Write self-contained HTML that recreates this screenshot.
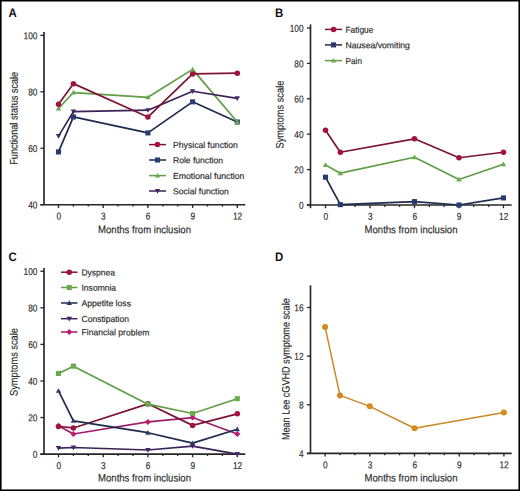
<!DOCTYPE html>
<html><head><meta charset="utf-8"><style>
html,body{margin:0;padding:0;background:#fff;}
svg{display:block;font-family:"Liberation Sans", sans-serif;}
</style></head><body>
<svg width="520" height="491" viewBox="0 0 520 491">
<rect x="0" y="0" width="520" height="491" fill="#fff"/>
<text transform="translate(8.60 17.00) rotate(0.1) scale(0.9300 1)" font-size="12.3" text-anchor="start" font-weight="bold" fill="#111">A</text>
<line x1="44.0" y1="31.9" x2="44.0" y2="204.7" stroke="#262626" stroke-width="1.65"/>
<line x1="40.4" y1="204.7" x2="245.3" y2="204.7" stroke="#262626" stroke-width="1.65"/>
<line x1="40.4" y1="204.7" x2="44.0" y2="204.7" stroke="#262626" stroke-width="1.3"/>
<text transform="translate(37.40 208.45) rotate(0.1) scale(0.8300 1)" font-size="10.0" text-anchor="end" font-weight="normal" fill="#2a2a2a" stroke="#2a2a2a" stroke-width="0.16">40</text>
<line x1="40.4" y1="148.26666666666665" x2="44.0" y2="148.26666666666665" stroke="#262626" stroke-width="1.3"/>
<text transform="translate(37.40 152.02) rotate(0.1) scale(0.8300 1)" font-size="10.0" text-anchor="end" font-weight="normal" fill="#2a2a2a" stroke="#2a2a2a" stroke-width="0.16">60</text>
<line x1="40.4" y1="91.83333333333334" x2="44.0" y2="91.83333333333334" stroke="#262626" stroke-width="1.3"/>
<text transform="translate(37.40 95.58) rotate(0.1) scale(0.8300 1)" font-size="10.0" text-anchor="end" font-weight="normal" fill="#2a2a2a" stroke="#2a2a2a" stroke-width="0.16">80</text>
<line x1="40.4" y1="35.400000000000006" x2="44.0" y2="35.400000000000006" stroke="#262626" stroke-width="1.3"/>
<text transform="translate(37.40 39.15) rotate(0.1) scale(0.8300 1)" font-size="10.0" text-anchor="end" font-weight="normal" fill="#2a2a2a" stroke="#2a2a2a" stroke-width="0.16">100</text>
<line x1="58.5" y1="204.7" x2="58.5" y2="207.89999999999998" stroke="#262626" stroke-width="1.35"/>
<text transform="translate(58.70 219.50) rotate(0.1) scale(0.8300 1)" font-size="10.0" text-anchor="middle" font-weight="normal" fill="#2a2a2a" stroke="#2a2a2a" stroke-width="0.16">0</text>
<line x1="73.4" y1="204.7" x2="73.4" y2="206.6" stroke="#262626" stroke-width="1.3"/>
<line x1="88.3" y1="204.7" x2="88.3" y2="206.6" stroke="#262626" stroke-width="1.3"/>
<line x1="103.2" y1="204.7" x2="103.2" y2="207.89999999999998" stroke="#262626" stroke-width="1.35"/>
<text transform="translate(103.40 219.50) rotate(0.1) scale(0.8300 1)" font-size="10.0" text-anchor="middle" font-weight="normal" fill="#2a2a2a" stroke="#2a2a2a" stroke-width="0.16">3</text>
<line x1="118.1" y1="204.7" x2="118.1" y2="206.6" stroke="#262626" stroke-width="1.3"/>
<line x1="133.0" y1="204.7" x2="133.0" y2="206.6" stroke="#262626" stroke-width="1.3"/>
<line x1="147.9" y1="204.7" x2="147.9" y2="207.89999999999998" stroke="#262626" stroke-width="1.35"/>
<text transform="translate(148.10 219.50) rotate(0.1) scale(0.8300 1)" font-size="10.0" text-anchor="middle" font-weight="normal" fill="#2a2a2a" stroke="#2a2a2a" stroke-width="0.16">6</text>
<line x1="162.8" y1="204.7" x2="162.8" y2="206.6" stroke="#262626" stroke-width="1.3"/>
<line x1="177.7" y1="204.7" x2="177.7" y2="206.6" stroke="#262626" stroke-width="1.3"/>
<line x1="192.6" y1="204.7" x2="192.6" y2="207.89999999999998" stroke="#262626" stroke-width="1.35"/>
<text transform="translate(192.80 219.50) rotate(0.1) scale(0.8300 1)" font-size="10.0" text-anchor="middle" font-weight="normal" fill="#2a2a2a" stroke="#2a2a2a" stroke-width="0.16">9</text>
<line x1="207.5" y1="204.7" x2="207.5" y2="206.6" stroke="#262626" stroke-width="1.3"/>
<line x1="222.4" y1="204.7" x2="222.4" y2="206.6" stroke="#262626" stroke-width="1.3"/>
<line x1="237.3" y1="204.7" x2="237.3" y2="207.89999999999998" stroke="#262626" stroke-width="1.35"/>
<text transform="translate(237.50 219.50) rotate(0.1) scale(0.8300 1)" font-size="10.0" text-anchor="middle" font-weight="normal" fill="#2a2a2a" stroke="#2a2a2a" stroke-width="0.16">12</text>
<text transform="translate(144.50 233.20) rotate(0.1) scale(0.8854 1)" font-size="10.8" text-anchor="middle" font-weight="normal" fill="#2a2a2a" stroke="#2a2a2a" stroke-width="0.16">Months from inclusion</text>
<text transform="translate(17.60 118.30) rotate(-89.9) scale(0.8466 1)" font-size="10.8" text-anchor="middle" font-weight="normal" fill="#2a2a2a" stroke="#2a2a2a" stroke-width="0.16">Functional status scale</text>
<polyline points="58.50,151.93 73.40,116.95 147.90,132.89 192.60,101.85 237.30,122.03" fill="none" stroke="#1f2b4e" stroke-width="1.7" stroke-linejoin="round"/>
<rect x="55.95" y="149.3848333333333" width="5.1" height="5.1" fill="#273b72"/>
<rect x="70.85000000000001" y="114.39616666666669" width="5.1" height="5.1" fill="#273b72"/>
<rect x="145.35" y="130.3385833333333" width="5.1" height="5.1" fill="#273b72"/>
<rect x="190.04999999999998" y="99.30024999999999" width="5.1" height="5.1" fill="#273b72"/>
<rect x="234.75" y="119.47516666666668" width="5.1" height="5.1" fill="#273b72"/>
<polyline points="58.50,108.48 73.40,92.54 147.90,97.34 192.60,69.40 237.30,122.03" fill="none" stroke="#5f9e47" stroke-width="1.7" stroke-linejoin="round"/>
<polygon points="58.5,105.78616666666669 61.195,110.50241666666668 55.805,110.50241666666668" fill="#69aa4c"/>
<polygon points="73.4,89.84375000000001 76.095,94.56 70.70500000000001,94.56" fill="#69aa4c"/>
<polygon points="147.9,94.64058333333335 150.595,99.35683333333334 145.205,99.35683333333334" fill="#69aa4c"/>
<polygon points="192.6,66.70608333333334 195.295,71.42233333333333 189.905,71.42233333333333" fill="#69aa4c"/>
<polygon points="237.3,119.33016666666668 239.995,124.04641666666667 234.60500000000002,124.04641666666667" fill="#69aa4c"/>
<polyline points="58.50,136.13 73.40,111.58 147.90,110.17 192.60,91.27 237.30,98.32" fill="none" stroke="#3c2356" stroke-width="1.7" stroke-linejoin="round"/>
<polygon points="58.5,138.82850000000002 61.195,134.11225000000002 55.805,134.11225000000002" fill="#46276a"/>
<polygon points="73.4,114.27999999999999 76.095,109.56375 70.70500000000001,109.56375" fill="#46276a"/>
<polygon points="147.9,112.86916666666666 150.595,108.15291666666667 145.205,108.15291666666667" fill="#46276a"/>
<polygon points="192.6,93.96399999999998 195.295,89.24775 189.905,89.24775" fill="#46276a"/>
<polygon points="237.3,101.01816666666666 239.995,96.30191666666667 234.60500000000002,96.30191666666667" fill="#46276a"/>
<polyline points="58.50,104.25 73.40,83.65 147.90,117.09 192.60,73.92 237.30,73.21" fill="none" stroke="#7c1434" stroke-width="1.7" stroke-linejoin="round"/>
<circle cx="58.5" cy="104.2486666666667" r="2.75" fill="#a3123c"/>
<circle cx="73.4" cy="83.65049999999998" r="2.75" fill="#a3123c"/>
<circle cx="147.9" cy="117.08725" r="2.75" fill="#a3123c"/>
<circle cx="192.6" cy="73.91575" r="2.75" fill="#a3123c"/>
<circle cx="237.3" cy="73.21033333333335" r="2.75" fill="#a3123c"/>
<line x1="149" y1="144.6" x2="166" y2="144.6" stroke="#7c1434" stroke-width="1.5"/>
<circle cx="157.5" cy="144.6" r="2.75" fill="#a3123c"/>
<text transform="translate(173.00 147.90) rotate(0.1) scale(0.9843 1)" font-size="8.8" text-anchor="start" font-weight="normal" fill="#2a2a2a" stroke="#2a2a2a" stroke-width="0.16">Physical function</text>
<line x1="149" y1="160.0" x2="166" y2="160.0" stroke="#1f2b4e" stroke-width="1.5"/>
<rect x="154.95" y="157.45" width="5.1" height="5.1" fill="#273b72"/>
<text transform="translate(173.00 163.30) rotate(0.1) scale(0.9734 1)" font-size="8.8" text-anchor="start" font-weight="normal" fill="#2a2a2a" stroke="#2a2a2a" stroke-width="0.16">Role function</text>
<line x1="149" y1="175.6" x2="166" y2="175.6" stroke="#5f9e47" stroke-width="1.5"/>
<polygon points="157.5,172.905 160.195,177.62125 154.805,177.62125" fill="#69aa4c"/>
<text transform="translate(173.00 178.90) rotate(0.1) scale(0.9876 1)" font-size="8.8" text-anchor="start" font-weight="normal" fill="#2a2a2a" stroke="#2a2a2a" stroke-width="0.16">Emotional function</text>
<line x1="149" y1="191.0" x2="166" y2="191.0" stroke="#3c2356" stroke-width="1.5"/>
<polygon points="157.5,193.695 160.195,188.97875 154.805,188.97875" fill="#46276a"/>
<text transform="translate(173.00 194.30) rotate(0.1) scale(0.9784 1)" font-size="8.8" text-anchor="start" font-weight="normal" fill="#2a2a2a" stroke="#2a2a2a" stroke-width="0.16">Social function</text>
<text transform="translate(275.10 17.00) rotate(0.1) scale(0.9300 1)" font-size="12.3" text-anchor="start" font-weight="bold" fill="#111">B</text>
<line x1="310.5" y1="24.4" x2="310.5" y2="208.2" stroke="#262626" stroke-width="1.65"/>
<line x1="306.9" y1="205.0" x2="511.6" y2="205.0" stroke="#262626" stroke-width="1.65"/>
<line x1="306.9" y1="205.0" x2="310.5" y2="205.0" stroke="#262626" stroke-width="1.3"/>
<text transform="translate(303.50 208.75) rotate(0.1) scale(0.8300 1)" font-size="10.0" text-anchor="end" font-weight="normal" fill="#2a2a2a" stroke="#2a2a2a" stroke-width="0.16">0</text>
<line x1="306.9" y1="169.6" x2="310.5" y2="169.6" stroke="#262626" stroke-width="1.3"/>
<text transform="translate(303.50 173.35) rotate(0.1) scale(0.8300 1)" font-size="10.0" text-anchor="end" font-weight="normal" fill="#2a2a2a" stroke="#2a2a2a" stroke-width="0.16">20</text>
<line x1="306.9" y1="134.2" x2="310.5" y2="134.2" stroke="#262626" stroke-width="1.3"/>
<text transform="translate(303.50 137.95) rotate(0.1) scale(0.8300 1)" font-size="10.0" text-anchor="end" font-weight="normal" fill="#2a2a2a" stroke="#2a2a2a" stroke-width="0.16">40</text>
<line x1="306.9" y1="98.8" x2="310.5" y2="98.8" stroke="#262626" stroke-width="1.3"/>
<text transform="translate(303.50 102.55) rotate(0.1) scale(0.8300 1)" font-size="10.0" text-anchor="end" font-weight="normal" fill="#2a2a2a" stroke="#2a2a2a" stroke-width="0.16">60</text>
<line x1="306.9" y1="63.400000000000006" x2="310.5" y2="63.400000000000006" stroke="#262626" stroke-width="1.3"/>
<text transform="translate(303.50 67.15) rotate(0.1) scale(0.8300 1)" font-size="10.0" text-anchor="end" font-weight="normal" fill="#2a2a2a" stroke="#2a2a2a" stroke-width="0.16">80</text>
<line x1="306.9" y1="28.0" x2="310.5" y2="28.0" stroke="#262626" stroke-width="1.3"/>
<text transform="translate(303.50 31.75) rotate(0.1) scale(0.8300 1)" font-size="10.0" text-anchor="end" font-weight="normal" fill="#2a2a2a" stroke="#2a2a2a" stroke-width="0.16">100</text>
<line x1="325.5" y1="205.0" x2="325.5" y2="208.2" stroke="#262626" stroke-width="1.35"/>
<text transform="translate(325.70 219.80) rotate(0.1) scale(0.8300 1)" font-size="10.0" text-anchor="middle" font-weight="normal" fill="#2a2a2a" stroke="#2a2a2a" stroke-width="0.16">0</text>
<line x1="340.33" y1="205.0" x2="340.33" y2="206.9" stroke="#262626" stroke-width="1.3"/>
<line x1="355.16" y1="205.0" x2="355.16" y2="206.9" stroke="#262626" stroke-width="1.3"/>
<line x1="369.99" y1="205.0" x2="369.99" y2="208.2" stroke="#262626" stroke-width="1.35"/>
<text transform="translate(370.19 219.80) rotate(0.1) scale(0.8300 1)" font-size="10.0" text-anchor="middle" font-weight="normal" fill="#2a2a2a" stroke="#2a2a2a" stroke-width="0.16">3</text>
<line x1="384.82" y1="205.0" x2="384.82" y2="206.9" stroke="#262626" stroke-width="1.3"/>
<line x1="399.65" y1="205.0" x2="399.65" y2="206.9" stroke="#262626" stroke-width="1.3"/>
<line x1="414.48" y1="205.0" x2="414.48" y2="208.2" stroke="#262626" stroke-width="1.35"/>
<text transform="translate(414.68 219.80) rotate(0.1) scale(0.8300 1)" font-size="10.0" text-anchor="middle" font-weight="normal" fill="#2a2a2a" stroke="#2a2a2a" stroke-width="0.16">6</text>
<line x1="429.31" y1="205.0" x2="429.31" y2="206.9" stroke="#262626" stroke-width="1.3"/>
<line x1="444.14" y1="205.0" x2="444.14" y2="206.9" stroke="#262626" stroke-width="1.3"/>
<line x1="458.97" y1="205.0" x2="458.97" y2="208.2" stroke="#262626" stroke-width="1.35"/>
<text transform="translate(459.17 219.80) rotate(0.1) scale(0.8300 1)" font-size="10.0" text-anchor="middle" font-weight="normal" fill="#2a2a2a" stroke="#2a2a2a" stroke-width="0.16">9</text>
<line x1="473.8" y1="205.0" x2="473.8" y2="206.9" stroke="#262626" stroke-width="1.3"/>
<line x1="488.63" y1="205.0" x2="488.63" y2="206.9" stroke="#262626" stroke-width="1.3"/>
<line x1="503.46000000000004" y1="205.0" x2="503.46000000000004" y2="208.2" stroke="#262626" stroke-width="1.35"/>
<text transform="translate(503.66 219.80) rotate(0.1) scale(0.8300 1)" font-size="10.0" text-anchor="middle" font-weight="normal" fill="#2a2a2a" stroke="#2a2a2a" stroke-width="0.16">12</text>
<text transform="translate(411.00 233.20) rotate(0.1) scale(0.8854 1)" font-size="10.8" text-anchor="middle" font-weight="normal" fill="#2a2a2a" stroke="#2a2a2a" stroke-width="0.16">Months from inclusion</text>
<text transform="translate(283.50 114.60) rotate(-89.9) scale(0.8583 1)" font-size="10.8" text-anchor="middle" font-weight="normal" fill="#2a2a2a" stroke="#2a2a2a" stroke-width="0.16">Symptoms scale</text>
<polyline points="325.50,130.31 340.33,152.25 414.48,138.80 458.97,157.74 503.46,152.25" fill="none" stroke="#7c1434" stroke-width="1.7" stroke-linejoin="round"/>
<circle cx="325.5" cy="130.30599999999998" r="2.75" fill="#a3123c"/>
<circle cx="340.33" cy="152.254" r="2.75" fill="#a3123c"/>
<circle cx="414.48" cy="138.802" r="2.75" fill="#a3123c"/>
<circle cx="458.97" cy="157.741" r="2.75" fill="#a3123c"/>
<circle cx="503.46000000000004" cy="152.254" r="2.75" fill="#a3123c"/>
<polyline points="325.50,177.21 340.33,204.65 414.48,201.64 458.97,205.00 503.46,197.92" fill="none" stroke="#1f2b4e" stroke-width="1.7" stroke-linejoin="round"/>
<rect x="322.95" y="174.661" width="5.1" height="5.1" fill="#273b72"/>
<rect x="337.78" y="202.09599999999998" width="5.1" height="5.1" fill="#273b72"/>
<rect x="411.93" y="199.087" width="5.1" height="5.1" fill="#273b72"/>
<rect x="456.42" y="202.45" width="5.1" height="5.1" fill="#273b72"/>
<rect x="500.91" y="195.36999999999998" width="5.1" height="5.1" fill="#273b72"/>
<polyline points="325.50,164.91 340.33,173.14 414.48,157.21 458.97,179.51 503.46,164.29" fill="none" stroke="#5f9e47" stroke-width="1.7" stroke-linejoin="round"/>
<polygon points="325.5,162.21450000000002 328.195,166.93075000000002 322.805,166.93075000000002" fill="#69aa4c"/>
<polygon points="340.33,170.445 343.025,175.16125 337.635,175.16125" fill="#69aa4c"/>
<polygon points="414.48,154.51500000000001 417.175,159.23125000000002 411.785,159.23125000000002" fill="#69aa4c"/>
<polygon points="458.97,176.817 461.665,181.53325 456.27500000000003,181.53325" fill="#69aa4c"/>
<polygon points="503.46000000000004,161.595 506.15500000000003,166.31125 500.76500000000004,166.31125" fill="#69aa4c"/>
<line x1="325" y1="29.4" x2="342.0" y2="29.4" stroke="#7c1434" stroke-width="1.5"/>
<circle cx="333.5" cy="29.4" r="2.75" fill="#a3123c"/>
<text transform="translate(345.50 32.70) rotate(0.1) scale(0.9539 1)" font-size="8.8" text-anchor="start" font-weight="normal" fill="#2a2a2a" stroke="#2a2a2a" stroke-width="0.16">Fatigue</text>
<line x1="325" y1="44.9" x2="342.0" y2="44.9" stroke="#1f2b4e" stroke-width="1.5"/>
<rect x="330.95" y="42.35" width="5.1" height="5.1" fill="#273b72"/>
<text transform="translate(345.50 48.20) rotate(0.1) scale(0.9841 1)" font-size="8.8" text-anchor="start" font-weight="normal" fill="#2a2a2a" stroke="#2a2a2a" stroke-width="0.16">Nausea/vomiting</text>
<line x1="325" y1="60.6" x2="342.0" y2="60.6" stroke="#5f9e47" stroke-width="1.5"/>
<polygon points="333.5,57.905 336.195,62.62125 330.805,62.62125" fill="#69aa4c"/>
<text transform="translate(345.50 63.90) rotate(0.1) scale(0.9368 1)" font-size="8.8" text-anchor="start" font-weight="normal" fill="#2a2a2a" stroke="#2a2a2a" stroke-width="0.16">Pain</text>
<text transform="translate(8.40 261.00) rotate(0.1) scale(0.9300 1)" font-size="12.3" text-anchor="start" font-weight="bold" fill="#111">C</text>
<line x1="44.0" y1="268.1" x2="44.0" y2="454.1" stroke="#262626" stroke-width="1.65"/>
<line x1="40.4" y1="454.1" x2="245.3" y2="454.1" stroke="#262626" stroke-width="1.65"/>
<line x1="40.4" y1="454.1" x2="44.0" y2="454.1" stroke="#262626" stroke-width="1.3"/>
<text transform="translate(37.40 457.85) rotate(0.1) scale(0.8300 1)" font-size="10.0" text-anchor="end" font-weight="normal" fill="#2a2a2a" stroke="#2a2a2a" stroke-width="0.16">0</text>
<line x1="40.4" y1="417.53000000000003" x2="44.0" y2="417.53000000000003" stroke="#262626" stroke-width="1.3"/>
<text transform="translate(37.40 421.28) rotate(0.1) scale(0.8300 1)" font-size="10.0" text-anchor="end" font-weight="normal" fill="#2a2a2a" stroke="#2a2a2a" stroke-width="0.16">20</text>
<line x1="40.4" y1="380.96000000000004" x2="44.0" y2="380.96000000000004" stroke="#262626" stroke-width="1.3"/>
<text transform="translate(37.40 384.71) rotate(0.1) scale(0.8300 1)" font-size="10.0" text-anchor="end" font-weight="normal" fill="#2a2a2a" stroke="#2a2a2a" stroke-width="0.16">40</text>
<line x1="40.4" y1="344.39" x2="44.0" y2="344.39" stroke="#262626" stroke-width="1.3"/>
<text transform="translate(37.40 348.14) rotate(0.1) scale(0.8300 1)" font-size="10.0" text-anchor="end" font-weight="normal" fill="#2a2a2a" stroke="#2a2a2a" stroke-width="0.16">60</text>
<line x1="40.4" y1="307.82" x2="44.0" y2="307.82" stroke="#262626" stroke-width="1.3"/>
<text transform="translate(37.40 311.57) rotate(0.1) scale(0.8300 1)" font-size="10.0" text-anchor="end" font-weight="normal" fill="#2a2a2a" stroke="#2a2a2a" stroke-width="0.16">80</text>
<line x1="40.4" y1="271.25" x2="44.0" y2="271.25" stroke="#262626" stroke-width="1.3"/>
<text transform="translate(37.40 275.00) rotate(0.1) scale(0.8300 1)" font-size="10.0" text-anchor="end" font-weight="normal" fill="#2a2a2a" stroke="#2a2a2a" stroke-width="0.16">100</text>
<line x1="58.5" y1="454.1" x2="58.5" y2="457.3" stroke="#262626" stroke-width="1.35"/>
<text transform="translate(58.70 468.90) rotate(0.1) scale(0.8300 1)" font-size="10.0" text-anchor="middle" font-weight="normal" fill="#2a2a2a" stroke="#2a2a2a" stroke-width="0.16">0</text>
<line x1="73.4" y1="454.1" x2="73.4" y2="456.0" stroke="#262626" stroke-width="1.3"/>
<line x1="88.3" y1="454.1" x2="88.3" y2="456.0" stroke="#262626" stroke-width="1.3"/>
<line x1="103.2" y1="454.1" x2="103.2" y2="457.3" stroke="#262626" stroke-width="1.35"/>
<text transform="translate(103.40 468.90) rotate(0.1) scale(0.8300 1)" font-size="10.0" text-anchor="middle" font-weight="normal" fill="#2a2a2a" stroke="#2a2a2a" stroke-width="0.16">3</text>
<line x1="118.1" y1="454.1" x2="118.1" y2="456.0" stroke="#262626" stroke-width="1.3"/>
<line x1="133.0" y1="454.1" x2="133.0" y2="456.0" stroke="#262626" stroke-width="1.3"/>
<line x1="147.9" y1="454.1" x2="147.9" y2="457.3" stroke="#262626" stroke-width="1.35"/>
<text transform="translate(148.10 468.90) rotate(0.1) scale(0.8300 1)" font-size="10.0" text-anchor="middle" font-weight="normal" fill="#2a2a2a" stroke="#2a2a2a" stroke-width="0.16">6</text>
<line x1="162.8" y1="454.1" x2="162.8" y2="456.0" stroke="#262626" stroke-width="1.3"/>
<line x1="177.7" y1="454.1" x2="177.7" y2="456.0" stroke="#262626" stroke-width="1.3"/>
<line x1="192.6" y1="454.1" x2="192.6" y2="457.3" stroke="#262626" stroke-width="1.35"/>
<text transform="translate(192.80 468.90) rotate(0.1) scale(0.8300 1)" font-size="10.0" text-anchor="middle" font-weight="normal" fill="#2a2a2a" stroke="#2a2a2a" stroke-width="0.16">9</text>
<line x1="207.5" y1="454.1" x2="207.5" y2="456.0" stroke="#262626" stroke-width="1.3"/>
<line x1="222.4" y1="454.1" x2="222.4" y2="456.0" stroke="#262626" stroke-width="1.3"/>
<line x1="237.3" y1="454.1" x2="237.3" y2="457.3" stroke="#262626" stroke-width="1.35"/>
<text transform="translate(237.50 468.90) rotate(0.1) scale(0.8300 1)" font-size="10.0" text-anchor="middle" font-weight="normal" fill="#2a2a2a" stroke="#2a2a2a" stroke-width="0.16">12</text>
<text transform="translate(144.50 481.50) rotate(0.1) scale(0.8854 1)" font-size="10.8" text-anchor="middle" font-weight="normal" fill="#2a2a2a" stroke="#2a2a2a" stroke-width="0.16">Months from inclusion</text>
<text transform="translate(17.50 362.00) rotate(-89.9) scale(0.8583 1)" font-size="10.8" text-anchor="middle" font-weight="normal" fill="#2a2a2a" stroke="#2a2a2a" stroke-width="0.16">Symptoms scale</text>
<polyline points="58.50,425.76 73.40,433.99 147.90,421.92 192.60,417.53 237.30,433.99" fill="none" stroke="#a01d6a" stroke-width="1.7" stroke-linejoin="round"/>
<polygon points="58.5,422.73325000000006 61.525,425.75825000000003 58.5,428.78325 55.475,425.75825000000003" fill="#bf1a70"/>
<polygon points="73.4,430.96150000000006 76.42500000000001,433.98650000000004 73.4,437.0115 70.375,433.98650000000004" fill="#bf1a70"/>
<polygon points="147.9,418.89340000000004 150.925,421.9184 147.9,424.9434 144.875,421.9184" fill="#bf1a70"/>
<polygon points="192.6,414.50500000000005 195.625,417.53000000000003 192.6,420.555 189.575,417.53000000000003" fill="#bf1a70"/>
<polygon points="237.3,430.96150000000006 240.32500000000002,433.98650000000004 237.3,437.0115 234.275,433.98650000000004" fill="#bf1a70"/>
<polyline points="58.50,426.49 73.40,427.95 147.90,403.82 192.60,425.39 237.30,413.87" fill="none" stroke="#7c1434" stroke-width="1.7" stroke-linejoin="round"/>
<circle cx="58.5" cy="426.48965000000004" r="2.75" fill="#a3123c"/>
<circle cx="73.4" cy="427.95245" r="2.75" fill="#a3123c"/>
<circle cx="147.9" cy="403.81625" r="2.75" fill="#a3123c"/>
<circle cx="192.6" cy="425.39255" r="2.75" fill="#a3123c"/>
<circle cx="237.3" cy="413.87300000000005" r="2.75" fill="#a3123c"/>
<polyline points="58.50,373.46 73.40,366.15 147.90,404.18 192.60,413.51 237.30,398.70" fill="none" stroke="#5f9e47" stroke-width="1.7" stroke-linejoin="round"/>
<rect x="55.95" y="370.91315000000003" width="5.1" height="5.1" fill="#69aa4c"/>
<rect x="70.85000000000001" y="363.59915" width="5.1" height="5.1" fill="#69aa4c"/>
<rect x="145.35" y="401.63195" width="5.1" height="5.1" fill="#69aa4c"/>
<rect x="190.04999999999998" y="410.9573" width="5.1" height="5.1" fill="#69aa4c"/>
<rect x="234.75" y="396.14645" width="5.1" height="5.1" fill="#69aa4c"/>
<polyline points="58.50,390.83 73.40,420.82 147.90,432.71 192.60,443.13 237.30,429.23" fill="none" stroke="#1f2b4e" stroke-width="1.7" stroke-linejoin="round"/>
<polygon points="58.5,388.13890000000004 61.195,392.85515000000004 55.805,392.85515000000004" fill="#273b72"/>
<polygon points="73.4,418.1263 76.095,422.84255 70.70500000000001,422.84255" fill="#273b72"/>
<polygon points="147.9,430.01155 150.595,434.7278 145.205,434.7278" fill="#273b72"/>
<polygon points="192.6,440.434 195.295,445.15025 189.905,445.15025" fill="#273b72"/>
<polygon points="237.3,426.53740000000005 239.995,431.25365000000005 234.60500000000002,431.25365000000005" fill="#273b72"/>
<polyline points="58.50,448.07 73.40,447.52 147.90,449.99 192.60,446.05 237.30,454.10" fill="none" stroke="#3c2356" stroke-width="1.7" stroke-linejoin="round"/>
<polygon points="58.5,450.76095000000004 61.195,446.04470000000003 55.805,446.04470000000003" fill="#46276a"/>
<polygon points="73.4,450.2124 76.095,445.49615 70.70500000000001,445.49615" fill="#46276a"/>
<polygon points="147.9,452.680875 150.595,447.964625 145.205,447.964625" fill="#46276a"/>
<polygon points="192.6,448.7496 195.295,444.03335 189.905,444.03335" fill="#46276a"/>
<polygon points="237.3,456.795 239.995,452.07875 234.60500000000002,452.07875" fill="#46276a"/>
<line x1="61" y1="272.2" x2="77.5" y2="272.2" stroke="#7c1434" stroke-width="1.5"/>
<circle cx="69.25" cy="272.2" r="2.75" fill="#a3123c"/>
<text transform="translate(81.50 275.50) rotate(0.1) scale(0.9645 1)" font-size="8.8" text-anchor="start" font-weight="normal" fill="#2a2a2a" stroke="#2a2a2a" stroke-width="0.16">Dyspnea</text>
<line x1="61" y1="287.5" x2="77.5" y2="287.5" stroke="#5f9e47" stroke-width="1.5"/>
<rect x="66.7" y="284.95" width="5.1" height="5.1" fill="#69aa4c"/>
<text transform="translate(81.50 290.80) rotate(0.1) scale(0.9718 1)" font-size="8.8" text-anchor="start" font-weight="normal" fill="#2a2a2a" stroke="#2a2a2a" stroke-width="0.16">Insomnia</text>
<line x1="61" y1="303" x2="77.5" y2="303" stroke="#1f2b4e" stroke-width="1.5"/>
<polygon points="69.25,300.305 71.945,305.02125 66.555,305.02125" fill="#273b72"/>
<text transform="translate(81.50 306.30) rotate(0.1) scale(0.9824 1)" font-size="8.8" text-anchor="start" font-weight="normal" fill="#2a2a2a" stroke="#2a2a2a" stroke-width="0.16">Appetite loss</text>
<line x1="61" y1="318.7" x2="77.5" y2="318.7" stroke="#3c2356" stroke-width="1.5"/>
<polygon points="69.25,321.395 71.945,316.67875 66.555,316.67875" fill="#46276a"/>
<text transform="translate(81.50 322.00) rotate(0.1) scale(0.9710 1)" font-size="8.8" text-anchor="start" font-weight="normal" fill="#2a2a2a" stroke="#2a2a2a" stroke-width="0.16">Constipation</text>
<line x1="61" y1="332" x2="77.5" y2="332" stroke="#a01d6a" stroke-width="1.5"/>
<polygon points="69.25,328.975 72.275,332 69.25,335.025 66.225,332" fill="#bf1a70"/>
<text transform="translate(81.50 335.30) rotate(0.1) scale(0.9790 1)" font-size="8.8" text-anchor="start" font-weight="normal" fill="#2a2a2a" stroke="#2a2a2a" stroke-width="0.16">Financial problem</text>
<text transform="translate(275.10 261.00) rotate(0.1) scale(0.9300 1)" font-size="12.3" text-anchor="start" font-weight="bold" fill="#111">D</text>
<line x1="310.5" y1="285.3" x2="310.5" y2="453.4" stroke="#262626" stroke-width="1.65"/>
<line x1="306.9" y1="453.4" x2="511.7" y2="453.4" stroke="#262626" stroke-width="1.65"/>
<line x1="306.9" y1="453.4" x2="310.5" y2="453.4" stroke="#262626" stroke-width="1.3"/>
<text transform="translate(303.50 457.15) rotate(0.1) scale(0.8300 1)" font-size="10.0" text-anchor="end" font-weight="normal" fill="#2a2a2a" stroke="#2a2a2a" stroke-width="0.16">4</text>
<line x1="306.9" y1="404.76666666666665" x2="310.5" y2="404.76666666666665" stroke="#262626" stroke-width="1.3"/>
<text transform="translate(303.50 408.52) rotate(0.1) scale(0.8300 1)" font-size="10.0" text-anchor="end" font-weight="normal" fill="#2a2a2a" stroke="#2a2a2a" stroke-width="0.16">8</text>
<line x1="306.9" y1="356.1333333333333" x2="310.5" y2="356.1333333333333" stroke="#262626" stroke-width="1.3"/>
<text transform="translate(303.50 359.88) rotate(0.1) scale(0.8300 1)" font-size="10.0" text-anchor="end" font-weight="normal" fill="#2a2a2a" stroke="#2a2a2a" stroke-width="0.16">12</text>
<line x1="306.9" y1="307.5" x2="310.5" y2="307.5" stroke="#262626" stroke-width="1.3"/>
<text transform="translate(303.50 311.25) rotate(0.1) scale(0.8300 1)" font-size="10.0" text-anchor="end" font-weight="normal" fill="#2a2a2a" stroke="#2a2a2a" stroke-width="0.16">16</text>
<line x1="325.1" y1="453.4" x2="325.1" y2="456.59999999999997" stroke="#262626" stroke-width="1.35"/>
<text transform="translate(325.30 468.20) rotate(0.1) scale(0.8300 1)" font-size="10.0" text-anchor="middle" font-weight="normal" fill="#2a2a2a" stroke="#2a2a2a" stroke-width="0.16">0</text>
<line x1="340.0" y1="453.4" x2="340.0" y2="455.29999999999995" stroke="#262626" stroke-width="1.3"/>
<line x1="354.90000000000003" y1="453.4" x2="354.90000000000003" y2="455.29999999999995" stroke="#262626" stroke-width="1.3"/>
<line x1="369.8" y1="453.4" x2="369.8" y2="456.59999999999997" stroke="#262626" stroke-width="1.35"/>
<text transform="translate(370.00 468.20) rotate(0.1) scale(0.8300 1)" font-size="10.0" text-anchor="middle" font-weight="normal" fill="#2a2a2a" stroke="#2a2a2a" stroke-width="0.16">3</text>
<line x1="384.70000000000005" y1="453.4" x2="384.70000000000005" y2="455.29999999999995" stroke="#262626" stroke-width="1.3"/>
<line x1="399.6" y1="453.4" x2="399.6" y2="455.29999999999995" stroke="#262626" stroke-width="1.3"/>
<line x1="414.5" y1="453.4" x2="414.5" y2="456.59999999999997" stroke="#262626" stroke-width="1.35"/>
<text transform="translate(414.70 468.20) rotate(0.1) scale(0.8300 1)" font-size="10.0" text-anchor="middle" font-weight="normal" fill="#2a2a2a" stroke="#2a2a2a" stroke-width="0.16">6</text>
<line x1="429.40000000000003" y1="453.4" x2="429.40000000000003" y2="455.29999999999995" stroke="#262626" stroke-width="1.3"/>
<line x1="444.3" y1="453.4" x2="444.3" y2="455.29999999999995" stroke="#262626" stroke-width="1.3"/>
<line x1="459.20000000000005" y1="453.4" x2="459.20000000000005" y2="456.59999999999997" stroke="#262626" stroke-width="1.35"/>
<text transform="translate(459.40 468.20) rotate(0.1) scale(0.8300 1)" font-size="10.0" text-anchor="middle" font-weight="normal" fill="#2a2a2a" stroke="#2a2a2a" stroke-width="0.16">9</text>
<line x1="474.1" y1="453.4" x2="474.1" y2="455.29999999999995" stroke="#262626" stroke-width="1.3"/>
<line x1="489.0" y1="453.4" x2="489.0" y2="455.29999999999995" stroke="#262626" stroke-width="1.3"/>
<line x1="503.90000000000003" y1="453.4" x2="503.90000000000003" y2="456.59999999999997" stroke="#262626" stroke-width="1.35"/>
<text transform="translate(504.10 468.20) rotate(0.1) scale(0.8300 1)" font-size="10.0" text-anchor="middle" font-weight="normal" fill="#2a2a2a" stroke="#2a2a2a" stroke-width="0.16">12</text>
<text transform="translate(411.00 481.50) rotate(0.1) scale(0.8854 1)" font-size="10.8" text-anchor="middle" font-weight="normal" fill="#2a2a2a" stroke="#2a2a2a" stroke-width="0.16">Months from inclusion</text>
<text transform="translate(289.50 369.20) rotate(-89.9) scale(0.8419 1)" font-size="10.8" text-anchor="middle" font-weight="normal" fill="#2a2a2a" stroke="#2a2a2a" stroke-width="0.16">Mean Lee cGVHD symptome scale</text>
<polyline points="325.10,327.07 340.00,395.40 369.80,406.35 414.50,428.23 503.90,412.43" fill="none" stroke="#cc8828" stroke-width="1.5" stroke-linejoin="round"/>
<circle cx="325.1" cy="327.07491666666664" r="3.0" fill="#d38a1e"/>
<circle cx="340.0" cy="395.40475" r="3.0" fill="#d38a1e"/>
<circle cx="369.8" cy="406.34725" r="3.0" fill="#d38a1e"/>
<circle cx="414.5" cy="428.23224999999996" r="3.0" fill="#d38a1e"/>
<circle cx="503.90000000000003" cy="412.4264166666666" r="3.0" fill="#d38a1e"/>
<rect x="0" y="0" width="520" height="1.5" fill="#000"/>
<rect x="0" y="0" width="1.6" height="491" fill="#000"/>
<rect x="518.45" y="0" width="1.55" height="491" fill="#000"/>
<rect x="0" y="489.45" width="520" height="1.55" fill="#000"/>
</svg>
</body></html>
